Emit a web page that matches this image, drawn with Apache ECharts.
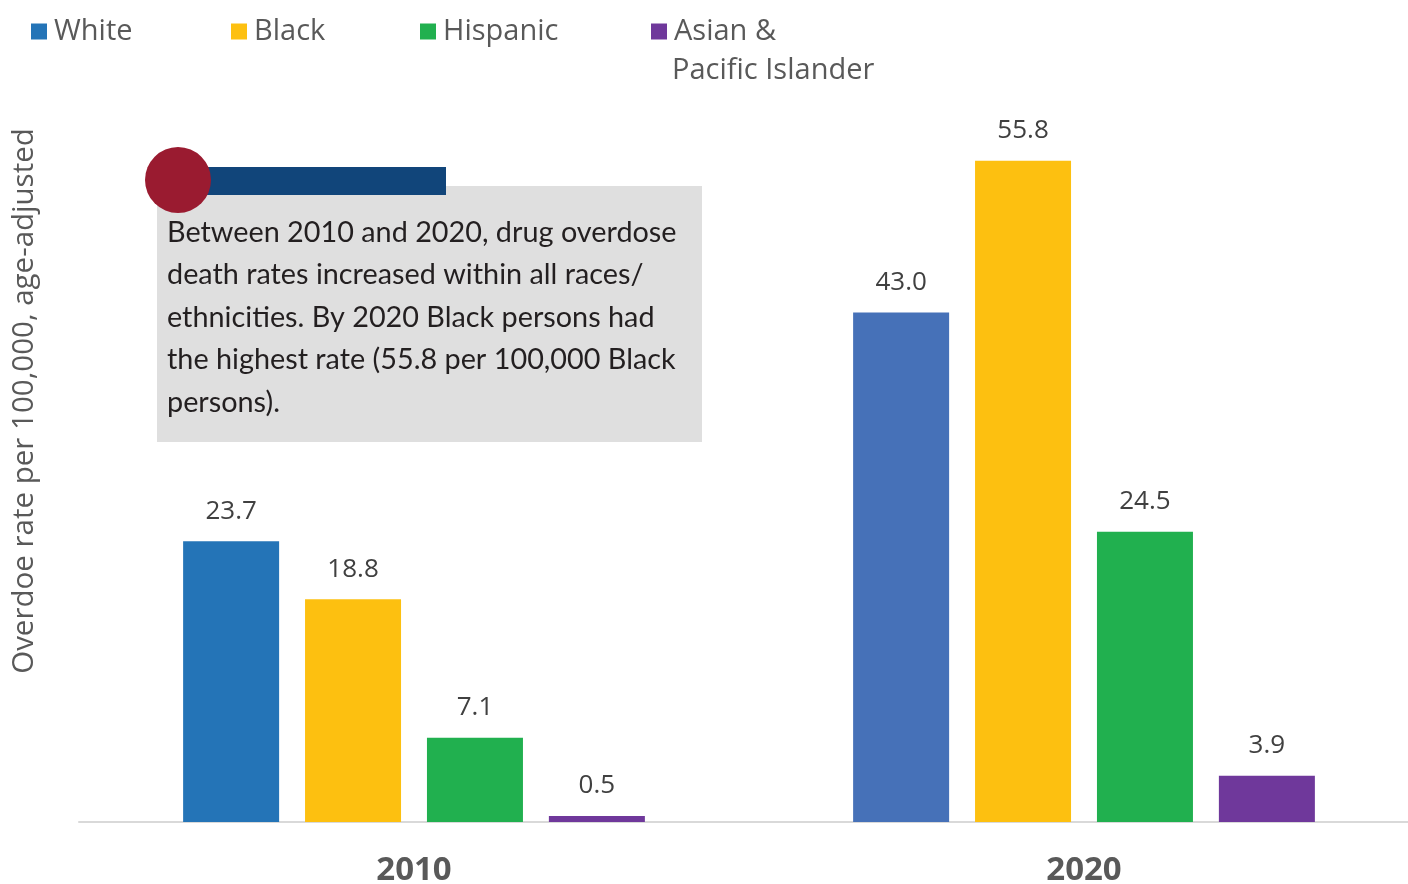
<!DOCTYPE html>
<html>
<head>
<meta charset="utf-8">
<style>
  html, body { margin: 0; padding: 0; background: #fff; }
  #chart { width: 1408px; height: 884px; }
</style>
<script src="https://cdn.jsdelivr.net/npm/echarts@6/dist/echarts.min.js"></script>
</head>
<body>
<div id="chart"></div>
<script>
// data
const years = ['2010', '2020']
const groups = ['White', 'Black', 'Hispanic', 'Asian & Pacific Islander']
const white = [23.7, 43.0]
const black = [18.8, 55.8]
const hispanic = [7.1, 24.5]
const asianPI = [0.5, 3.9]
const yTitle = 'Overdoe rate per 100,000, age-adjusted'
const note = 'Between 2010 and 2020, drug overdose\ndeath rates increased within all races/\nethnicities. By 2020 Black persons had\nthe highest rate (55.8 per 100,000 Black\npersons).'

const colors = ['#2474B7', '#FDC010', '#21B04F', '#6F389B']
const white2020 = '#4671B8'
const legendLeft = [26, 226, 415, 646]
const baseFont = '"Open Sans", "Noto Sans", sans-serif'

const chart = echarts.init(document.getElementById('chart'))

function makeSeries(name, values, i) {
  return {
    name: name,
    type: 'bar',
    barWidth: 96,
    barGap: '27%',
    itemStyle: { color: colors[i] },
    data: values.map((v, j) => {
      if (i === 0 && j === 1) {
        return { value: v, itemStyle: { color: white2020 } }
      }
      return v
    }),
    label: {
      show: true,
      position: 'top',
      distance: 17,
      color: '#404040',
      fontSize: 26,
      fontFamily: baseFont,
      formatter: p => p.value.toFixed(1)
    }
  }
}

chart.setOption({
  animation: false,
  color: colors,
  legend: groups.map((g, i) => ({
    data: [g],
    left: legendLeft[i],
    top: 12,
    icon: 'rect',
    itemWidth: 16,
    itemHeight: 16,
    itemGap: 0,
    selectedMode: false,
    formatter: name => name === 'Asian & Pacific Islander' ? 'Asian &' : name,
    textStyle: {
      color: '#595959',
      fontSize: 29,
      fontFamily: baseFont,
      padding: [0, 0, 0, 2]
    }
  })),
  grid: {
    left: 79,
    right: -11,
    top: 111,
    bottom: 62,
    outerBoundsMode: 'none'
  },
  xAxis: {
    type: 'category',
    data: years,
    axisTick: { show: false },
    axisLine: { lineStyle: { color: '#D9D9D9', width: 2 } },
    axisLabel: {
      margin: 32,
      color: '#595959',
      fontSize: 33,
      fontWeight: 'bold',
      fontFamily: baseFont
    }
  },
  yAxis: {
    type: 'value',
    min: 0,
    max: 60,
    interval: 10,
    axisLine: { show: false },
    axisTick: { show: false },
    axisLabel: { show: false },
    splitLine: { show: false }
  },
  graphic: [
    {
      type: 'text',
      x: 25,
      y: 401,
      rotation: Math.PI / 2,
      style: {
        text: yTitle,
        fill: '#595959',
        fontSize: 29.5,
        fontFamily: baseFont,
        align: 'center',
        verticalAlign: 'middle'
      }
    },
    {
      type: 'text',
      left: 672,
      top: 56,
      style: {
        text: 'Pacific Islander',
        fill: '#595959',
        fontSize: 29,
        fontFamily: baseFont
      }
    },
    {
      type: 'rect',
      shape: { x: 157, y: 186, width: 545, height: 256 },
      style: { fill: '#DFDFDF' }
    },
    {
      type: 'rect',
      shape: { x: 178, y: 167, width: 268, height: 28 },
      style: { fill: '#11457A' }
    },
    {
      type: 'circle',
      shape: { cx: 178, cy: 180, r: 33 },
      style: { fill: '#9A1B30' }
    },
    {
      type: 'text',
      x: 167,
      y: 211,
      style: {
        text: note,
        fill: '#231F20',
        fontSize: 28.8,
        lineHeight: 42.6,
        fontFamily: 'Lato, "Noto Sans", sans-serif'
      }
    }
  ],
  series: [
    makeSeries(groups[0], white, 0),
    makeSeries(groups[1], black, 1),
    makeSeries(groups[2], hispanic, 2),
    makeSeries(groups[3], asianPI, 3)
  ]
})
</script>
</body>
</html>
